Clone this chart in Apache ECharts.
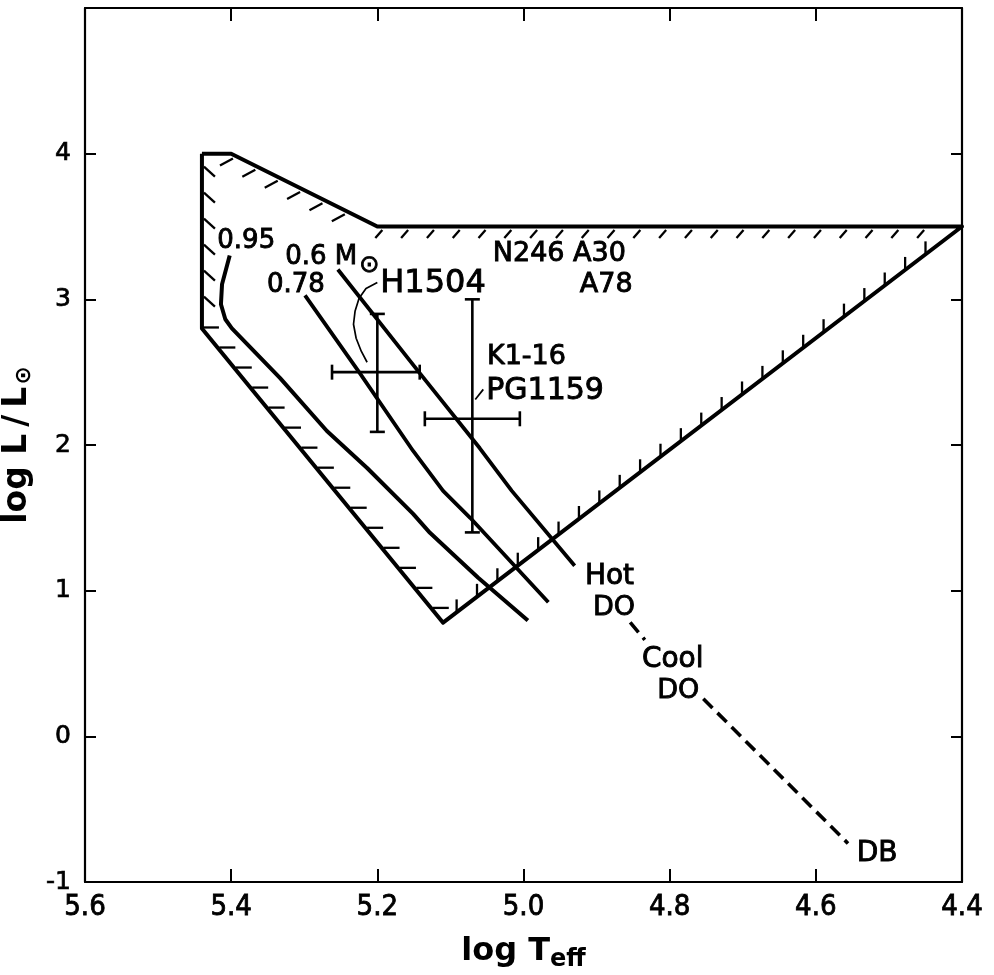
<!DOCTYPE html>
<html><head><meta charset="utf-8">
<script src="https://cdn.jsdelivr.net/npm/echarts@6/dist/echarts.min.js"></script>
<style>html,body{margin:0;padding:0;background:#fff}#c{width:994px;height:975px}</style>
</head><body><div id="c"></div>
<script>
// ---- data: [log Teff, log L/Lsun] ----
const xTickValues = [5.6, 5.4, 5.2, 5.0, 4.8, 4.6, 4.4];
const yTickValues = [-1, 0, 1, 2, 3, 4];

// boundary of the hatched region
const boundary = [[5.44,4.0],[5.40,4.0],[5.20,3.5],[4.40,3.5],[5.11,0.78],[5.44,2.8],[5.44,4.0]];

// evolutionary tracks
const track095 = [[5.402,3.301],[5.4125,3.103],[5.414,2.966],[5.408,2.863],[5.399,2.801],[5.333,2.459],[5.269,2.096],[5.214,1.842],[5.151,1.527],[5.128,1.397],[5.062,1.089],[4.994,0.795]];
const track078 = [[5.299,3.027],[5.224,2.493],[5.151,1.959],[5.110,1.685],[5.073,1.500],[4.966,0.920]];
const track060 = [[5.254,3.205],[5.142,2.493],[5.060,1.979],[5.016,1.685],[4.930,1.171]];

// dashed cooling sequence Hot DO -> Cool DO -> DB
const coolingA = [[4.854,0.783],[4.834,0.662]];
const coolingB = [[4.754,0.258],[4.556,-0.735]];

// thin connector curves
const arcH1504 = [[5.200,3.116],[5.2155,3.075],[5.225,3.007],[5.2305,2.918],[5.2326,2.829],[5.229,2.733],[5.222,2.644],[5.214,2.568]];
const tickPG1159 = [[5.066,2.313],[5.055,2.382]];

// error-bar stars: [x, y, xHot, xCool, yHigh, yLow]
const errStars = [[5.20,2.50,5.262,5.142,2.90,2.09],[5.07,2.18,5.135,5.005,3.00,1.40]];

// annotations: text, [x, y] (left edge, vertical middle)
const annoText = ['0.95','0.6 M{s|⊙}','0.78','H1504','N246 A30','A78','K1-16','PG1159','Hot','DO','Cool','DO','DB'];
const annoPos = [[5.419,3.397],[5.326,3.288],[5.351,3.096],[5.196,3.110],[5.042,3.312],[4.923,3.096],[5.050,2.603],[5.051,2.370],[4.916,1.096],[4.905,0.880],[4.838,0.527],[4.817,0.308],[4.544,-0.805]];
const annoSize = [26,26,26,32,27,27,27,30,28,27,28,27,28];

// hatch styling per boundary edge (edge = [fromVertex, toVertex]) ; pixel units
const hatchEdges = [[6,5],[1,2],[2,3],[4,3],[5,4]];
const hatchStyle = [
  {start:13, step:26, endGap:8, off:[2,0], vec:[11,10]},
  {start:2, step:25, endGap:12, off:[0,4], vec:[-13,7]},
  {start:5, step:25.8, endGap:14, off:[0,3.5], vec:[-7,8]},
  {start:17, step:25.65, endGap:22, off:[0,0], vec:[0,-13]},
  {start:0, step:25.9, endGap:12, off:[1,-1], vec:[16,0]}
];

const FONT = "'DejaVu Sans', sans-serif";
const NARROW = "'Liberation Sans Narrow','DejaVu Sans Condensed',sans-serif";
const BLACK = '#000';

const hatchData = hatchEdges.map(e => [boundary[e[0]][0], boundary[e[0]][1], boundary[e[1]][0], boundary[e[1]][1]]);

function hatchRender(params, api) {
  const st = hatchStyle[params.dataIndex];
  const p1 = api.coord([api.value(0), api.value(1)]);
  const p2 = api.coord([api.value(2), api.value(3)]);
  const dx = p2[0]-p1[0], dy = p2[1]-p1[1];
  const len = Math.hypot(dx, dy);
  const ux = dx/len, uy = dy/len;
  const children = [];
  for (let s = st.start; s <= len - st.endGap; s += st.step) {
    const x0 = p1[0] + ux*s + st.off[0], y0 = p1[1] + uy*s + st.off[1];
    children.push({type:'line', shape:{x1:x0, y1:y0, x2:x0+st.vec[0], y2:y0+st.vec[1]},
      style:{stroke:BLACK, lineWidth:2.3}});
  }
  return {type:'group', children};
}

function seg(x1,y1,x2,y2,w){ return {type:'line', shape:{x1,y1,x2,y2}, style:{stroke:BLACK, lineWidth:w}}; }
function errRender(params, api) {
  const l = api.coord([api.value(2), api.value(1)]);
  const r = api.coord([api.value(3), api.value(1)]);
  const t = api.coord([api.value(0), api.value(4)]);
  const b = api.coord([api.value(0), api.value(5)]);
  const cap = 7.5, w = 2.6;
  return {type:'group', children:[
    seg(l[0],l[1],r[0],r[1],w), seg(t[0],t[1],b[0],b[1],w),
    seg(l[0],l[1]-cap,l[0],l[1]+cap,w), seg(r[0],r[1]-cap,r[0],r[1]+cap,w),
    seg(t[0]-cap,t[1],t[0]+cap,t[1],w), seg(b[0]-cap,b[1],b[0]+cap,b[1],w)
  ]};
}

function lineSeries(data, width, type) {
  return {type:'line', data, showSymbol:false, symbol:'none', silent:true, z:5,
    lineStyle:{color:BLACK, width, type: type || 'solid', cap:'butt', join:'round'}};
}

const axisLineStyle = {color:BLACK, width:2.2};
const tickStyle = {color:BLACK, width:2};
const chart = echarts.init(document.getElementById('c'));
chart.setOption({
  animation:false,
  backgroundColor:'#fff',
  grid:{left:85, right:32, top:8, bottom:93, containLabel:false, outerBoundsMode:'none'},
  xAxis:[
    {type:'value', min:4.4, max:5.6, interval:0.2, inverse:true, position:'bottom',
     axisLine:{onZero:false, lineStyle:axisLineStyle}, splitLine:{show:false},
     axisTick:{inside:true, length:13, lineStyle:tickStyle},
     axisLabel:{formatter:v=>v.toFixed(1), color:BLACK, fontSize:29, margin:11, fontFamily:NARROW,
       textBorderColor:BLACK, textBorderWidth:0.8},
     name:'log T{sub|eff}', nameLocation:'middle', nameGap:50,
     nameTextStyle:{color:BLACK, fontSize:32, fontWeight:'bold', fontFamily:FONT,
       rich:{sub:{fontSize:24, fontWeight:'bold', fontFamily:FONT, color:BLACK, padding:[16,0,0,0]}}}},
    {type:'value', min:4.4, max:5.6, interval:0.2, inverse:true, position:'top',
     axisLine:{onZero:false, lineStyle:axisLineStyle}, splitLine:{show:false},
     axisTick:{inside:true, length:13, lineStyle:tickStyle},
     axisLabel:{show:false}}
  ],
  yAxis:[
    {type:'value', min:-1, max:5, interval:1, position:'left',
     axisLine:{onZero:false, lineStyle:axisLineStyle}, splitLine:{show:false},
     axisTick:{inside:true, length:11, lineStyle:tickStyle},
     axisLabel:{formatter:v=> (yTickValues.indexOf(v) >= 0 ? String(v) : ''), color:BLACK, fontSize:25, margin:14, fontFamily:FONT,
       textBorderColor:BLACK, textBorderWidth:0.7},
     name:'log L{g|/}L{sub|⊙}', nameLocation:'middle', nameGap:46, nameRotate:90,
     nameTextStyle:{color:BLACK, fontSize:33, fontWeight:'bold', fontFamily:FONT,
       rich:{g:{fontSize:33, fontWeight:'bold', fontFamily:FONT, color:BLACK, padding:[0,7,0,7]},
             sub:{fontSize:22, fontWeight:'bold', fontFamily:FONT, color:BLACK, padding:[12,0,0,2]}}}},
    {type:'value', min:-1, max:5, interval:1, position:'right',
     axisLine:{onZero:false, lineStyle:axisLineStyle}, splitLine:{show:false},
     axisTick:{inside:true, length:11, lineStyle:tickStyle},
     axisLabel:{show:false}}
  ],
  series:[
    {type:'custom', renderItem:hatchRender, data:hatchData, encode:{x:[0,2], y:[1,3]}, silent:true, z:3},
    lineSeries(boundary, 4),
    lineSeries(track095, 4),
    lineSeries(track078, 3.8),
    lineSeries(track060, 3.8),
    lineSeries(coolingA, 3.6, [13,7]),
    lineSeries(coolingB, 3.6, [13,7]),
    lineSeries(arcH1504, 1.7),
    lineSeries(tickPG1159, 1.7),
    {type:'custom', renderItem:errRender, data:errStars, encode:{x:[0,2,3], y:[1,4,5]}, silent:true, z:6},
    {type:'scatter', symbolSize:0, silent:true, z:7, itemStyle:{opacity:1, color:BLACK},
     data: annoText.map((t,i)=>({value:annoPos[i], name:t,
       label:{show:true, position:'right', distance:0, formatter:t, fontSize:annoSize[i], color:BLACK, opacity:1, fontFamily:FONT,
         textBorderColor:BLACK, textBorderWidth:0.9,
         rich:{s:{fontSize:24, color:BLACK, fontFamily:FONT, textBorderColor:BLACK, textBorderWidth:0.9, padding:[16,0,0,2]}}}}))}
  ]
});
</script>
</body></html>
